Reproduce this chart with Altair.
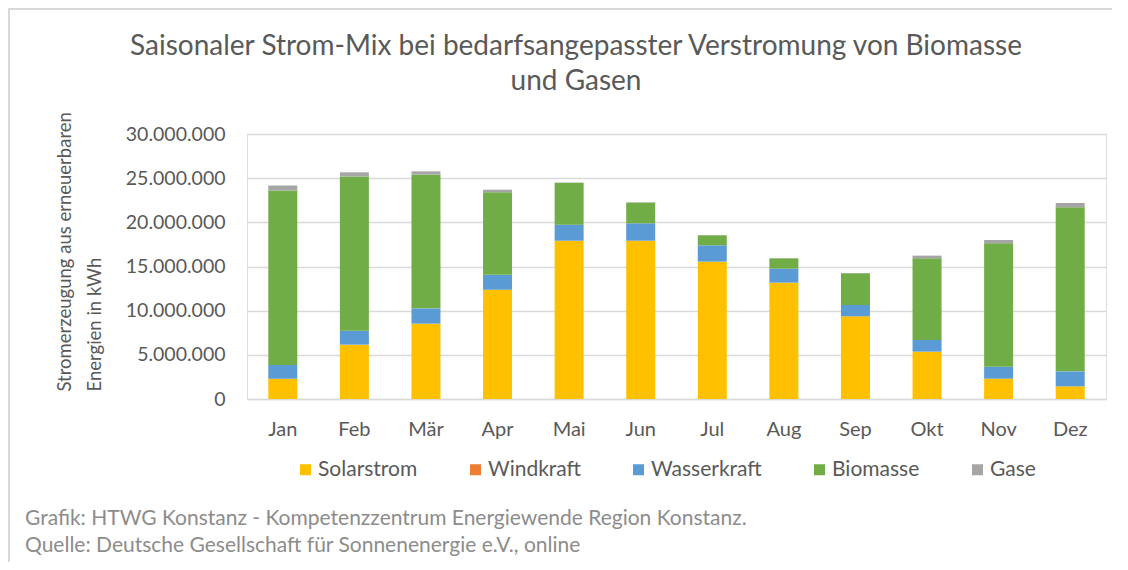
import altair as alt
import pandas as pd

months = ["Jan", "Feb", "Mär", "Apr", "Mai", "Jun", "Jul", "Aug", "Sep", "Okt", "Nov", "Dez"]
sources = ["Solarstrom", "Windkraft", "Wasserkraft", "Biomasse", "Gase"]
colors = ["#FFC000", "#ED7D31", "#5B9BD5", "#70AD47", "#A5A5A5"]

solar = [2300000, 6150000, 8530000, 12380000, 17920000, 17920000, 15550000, 13170000, 9360000, 5360000, 2300000, 1430000]
wind = [0, 0, 0, 0, 0, 0, 0, 0, 0, 0, 0, 0]
wasser = [1550000, 1590000, 1730000, 1700000, 1820000, 1970000, 1850000, 1580000, 1280000, 1320000, 1360000, 1700000]
biomasse = [19750000, 17460000, 15140000, 9320000, 4710000, 2340000, 1130000, 1170000, 3590000, 9240000, 13960000, 18570000]
gase = [570000, 460000, 370000, 300000, 50000, 40000, 40000, 30000, 30000, 310000, 380000, 490000]

title_text = "Saisonaler Strom-Mix bei bedarfsangepasster Verstromung von Biomasse\nund Gasen"
y_title = ["Stromerzeugung aus erneuerbaren", "Energien in kWh"]
footnote = "Grafik: HTWG Konstanz - Kompetenzzentrum Energiewende Region Konstanz.\nQuelle: Deutsche Gesellschaft für Sonnenenergie e.V., online"

series = [solar, wind, wasser, biomasse, gase]
rows = []
for si, (name, vals) in enumerate(zip(sources, series)):
    for m, v in zip(months, vals):
        rows.append({"Monat": m, "Quelle": name, "Wert": v, "idx": si})
df = pd.DataFrame(rows)

FONT = "Lato"
TXT = "#595959"
W, H = 859, 265

bars = alt.Chart(df).mark_bar(size=29).encode(
    x=alt.X("Monat:N", sort=months, title=None,
            scale=alt.Scale(paddingInner=0.6, paddingOuter=0.3),
            axis=alt.Axis(labelAngle=0, ticks=False, domainColor="#d9d9d9", domainWidth=1.5,
                          labelPadding=20, labelFontSize=20, labelColor=TXT, labelFont=FONT)),
    y=alt.Y("Wert:Q", stack="zero",
            scale=alt.Scale(domain=[0, 30000000], nice=False),
            axis=alt.Axis(values=[0, 5000000, 10000000, 15000000, 20000000, 25000000, 30000000],
                          labelExpr="replace(format(datum.value, ',d'), regexp(',', 'g'), '.')",
                          domain=False, ticks=False, gridColor="#d9d9d9", gridWidth=1.3,
                          labelPadding=22, labelFontSize=19.5, labelColor=TXT, labelFont=FONT,
                          title=y_title, titleFontSize=18.5, titleFont=FONT, titleColor=TXT,
                          titleFontWeight="normal", titleLineHeight=30, titlePadding=21,
                          titleAlign="left", titleY=257)),
    color=alt.Color("Quelle:N", scale=alt.Scale(domain=sources, range=colors),
                    legend=alt.Legend(title=None, orient="none", direction="horizontal",
                                      legendX=48, legendY=325, symbolType="square",
                                      symbolSize=121, symbolStrokeWidth=0, columnPadding=47,
                                      labelFontSize=21, labelFont=FONT, labelColor=TXT,
                                      labelOffset=2)),
    order=alt.Order("idx:Q", sort="ascending"),
)

title = alt.Chart(pd.DataFrame({"t": [title_text]})).mark_text(
    align="center", baseline="middle", lineBreak="\n", lineHeight=35,
    fontSize=28, font=FONT, color=TXT
).encode(x=alt.value(329), y=alt.value(-87), text="t:N")

foot = alt.Chart(pd.DataFrame({"t": [footnote]})).mark_text(
    align="left", baseline="middle", lineBreak="\n", lineHeight=27,
    fontSize=21, font=FONT, color="#8c8c8c"
).encode(x=alt.value(-222), y=alt.value(385), text="t:N")

frame = alt.Chart(pd.DataFrame({"a": [1]})).mark_rect(
    fill=None, stroke="#d9d9d9", strokeWidth=2
).encode(x=alt.value(-238), y=alt.value(-125), x2=alt.value(W + 200), y2=alt.value(H + 300))

chart = alt.layer(frame, title, bars, foot).properties(
    width=W, height=H,
    autosize=alt.AutoSizeParams(type="none"),
    padding={"left": 239, "top": 126, "right": 6, "bottom": 163},
).configure_view(stroke=None).configure(background="white")

chart.save("out.html", embed_options={"renderer": "svg", "actions": False})
